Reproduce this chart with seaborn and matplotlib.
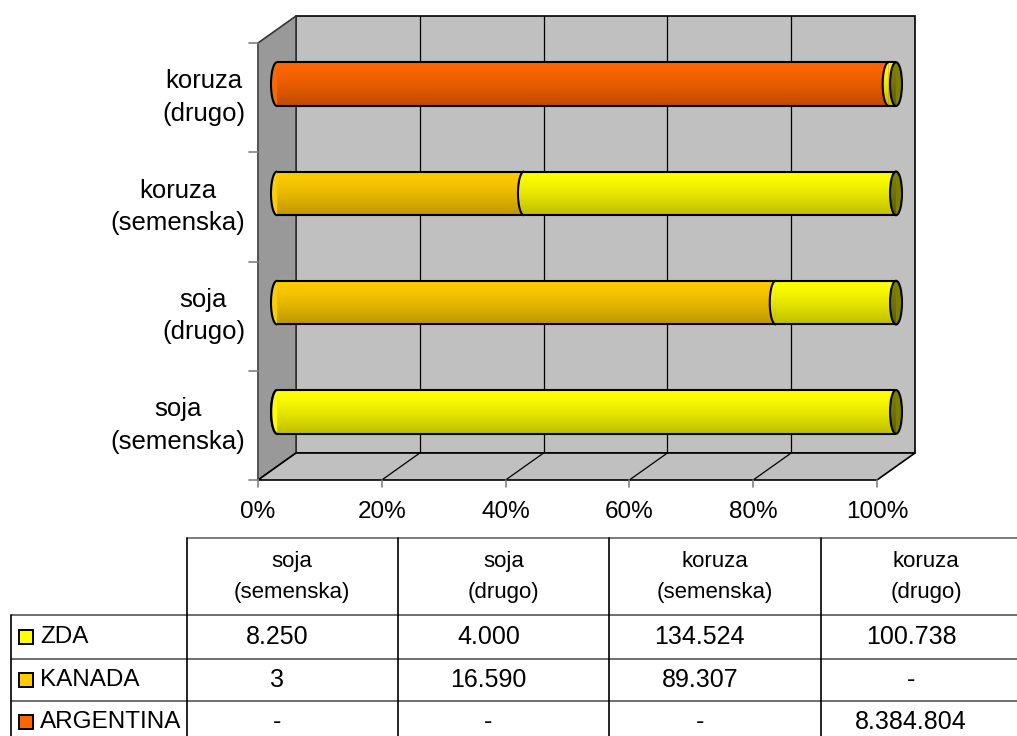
import numpy as np
import pandas as pd
import matplotlib.pyplot as plt
import seaborn as sns
from matplotlib.patches import Polygon, Ellipse, Rectangle

categories = ['soja\n(semenska)', 'soja\n(drugo)', 'koruza\n(semenska)', 'koruza\n(drugo)']
countries = ['ZDA', 'KANADA', 'ARGENTINA']
zda = [8250, 4000, 134524, 100738]
kanada = [3, 16590, 89307, 0]
argentina = [0, 0, 0, 8384804]
xticks = [0, 0.2, 0.4, 0.6, 0.8, 1.0]
xtick_labels = ['0%', '20%', '40%', '60%', '80%', '100%']

colors = {'ZDA': '#FFFF00', 'KANADA': '#FFCC00', 'ARGENTINA': '#FF6600'}
cap_color = '#808000'

df = pd.DataFrame({'kategorija': categories, 'ZDA': zda,
                   'KANADA': kanada, 'ARGENTINA': argentina})
tot = df[countries].sum(axis=1)
df['s_arg'] = df['ARGENTINA'] / tot
df['s_kan'] = df['s_arg'] + df['KANADA'] / tot
df['s_zda'] = df['s_kan'] + df['ZDA'] / tot
order = categories[::-1]

sns.set_style('white')
plt.rcParams['font.family'] = ['Liberation Sans', 'DejaVu Sans']
plt.rcParams['text.color'] = 'black'

W, H = 1017, 736
fig = plt.figure(figsize=(W / 100, H / 100), dpi=100)

# axes = middle depth plane of the 3D box
L, R, T, B = 277, 896, 29.5, 466.5
ax = fig.add_axes([L / W, 1 - B / H, (R - L) / W, (B - T) / H])
PX = 1 / (R - L)
PY = 4 / (B - T)
DX, DY = 19 * PX, 13.5 * PY
y0, y1 = -0.5, 3.5

# walls
ax.add_patch(Rectangle((DX, y0 - DY), 1, 4, fc='#C0C0C0', ec='black', lw=1.2,
                       zorder=0.5, clip_on=False))
for x in xticks[1:-1]:
    ax.plot([x + DX, x + DX], [y0 - DY, y1 - DY], color='black', lw=0.9,
            zorder=0.6, clip_on=False)
ax.add_patch(Polygon([(-DX, y0 + DY), (DX, y0 - DY), (DX, y1 - DY), (-DX, y1 + DY)],
                     fc='#999999', ec='#333333', lw=1.2, zorder=0.7, clip_on=False))
ax.add_patch(Polygon([(-DX, y1 + DY), (1 - DX, y1 + DY), (1 + DX, y1 - DY), (DX, y1 - DY)],
                     fc='#C0C0C0', ec='black', lw=1.2, zorder=0.7, clip_on=False))
for x in xticks[1:-1]:
    ax.plot([x - DX, x + DX], [y1 + DY, y1 - DY], color='black', lw=0.9,
            zorder=0.8, clip_on=False)

# axis lines and ticks
ax.plot([-DX, -DX], [y0 + DY, y1 + DY], color='#555555', lw=1.3, zorder=0.9, clip_on=False)
for k in range(5):
    ax.plot([-DX - 9 * PX, -DX], [y0 + k + DY] * 2, color='#808080', lw=1.2, clip_on=False)
for x, lab in zip(xticks, xtick_labels):
    ax.plot([x - DX, x - DX], [y1 + DY, y1 + DY + 7 * PY], color='#808080', lw=1.2, clip_on=False)
    ax.annotate(lab, xy=(x - DX, y1 + DY), xytext=(0, -32), textcoords='offset pixels',
                ha='center', va='center', fontsize=17.5, annotation_clip=False)
for i, cat in enumerate(order):
    ax.annotate(cat, xy=(-DX, i + DY), xytext=(-13, 0), textcoords='offset pixels',
                ha='right', va='center', multialignment='center', fontsize=18.5,
                linespacing=1.45, annotation_clip=False)

# shading for the cylinders
t = np.linspace(0, 1, 100)
grad = np.zeros((100, 1, 4))
grad[:, 0, 3] = 0.26 * t ** 1.4


def shade(artist, xa, xb, ya, yb, z):
    im = ax.imshow(grad, extent=(xa, xb, yb, ya), origin='upper', aspect='auto',
                   interpolation='bilinear', zorder=z)
    im.set_clip_path(artist)
    im.set_clip_box(None)


# stacked bars (cumulative, drawn widest first)
bar_w = 0.4
layers = [('s_zda', 's_kan', 'ZDA'), ('s_kan', 's_arg', 'KANADA'), ('s_arg', None, 'ARGENTINA')]
full = None
for col, start, name in layers:
    n0 = len(ax.patches)
    sns.barplot(data=df, x=col, y='kategorija', order=order, orient='h',
                color=colors[name], saturation=1, width=bar_w, linewidth=0,
                edgecolor='none', ax=ax, zorder=3)
    if full is None:
        full = ax.patches[n0:]

rx = 6 * PX
for i, p in enumerate(full):
    row = df.set_index('kategorija').loc[order[i]]
    yc = p.get_y() + p.get_height() / 2
    ya, yb = p.get_y(), p.get_y() + p.get_height()
    shade(p, 0, 1, ya, yb, 3.5)
    ax.hlines([ya, yb], p.get_x(), p.get_x() + p.get_width(), color='black', lw=1.5, zorder=4.8)
    # segment starts: left half ellipses
    z = 4.0
    for col, start, name in reversed(layers):
        s = 0 if start is None else row[start]
        e = row[col]
        if e - s <= 0:
            continue
        th = np.linspace(np.pi / 2, 3 * np.pi / 2, 60)
        pts = np.column_stack([s + rx * np.cos(th), yc - bar_w / 2 * np.sin(th)])
        hp = Polygon(pts, closed=False, fc=colors[name], ec='black', lw=1.5,
                     zorder=z, clip_on=False)
        ax.add_patch(hp)
        shade(hp, s - rx, s, ya, yb, z + 0.05)
        z += 0.2
    # end cap
    cap = Ellipse((row['s_zda'], yc), 2 * rx, bar_w, fc=cap_color, ec='black',
                  lw=1.5, zorder=5, clip_on=False)
    ax.add_patch(cap)
    shade(cap, 1 - rx, 1 + rx, ya, yb, 5.05)

ax.set_xlim(0, 1)
ax.set_ylim(y1, y0)
ax.set_axis_off()

# data table
tab = fig.add_axes([0, 0, 1, 1], zorder=-1)
tab.set_xlim(0, W)
tab.set_ylim(H, 0)
tab.set_axis_off()
col_x = [186.5, 398, 609, 820.5, 1032]
row_y = [615, 659, 701, 743]
tab.plot([col_x[0], W], [538, 538], color='#666666', lw=1.2)
for yy in row_y[:-1]:
    tab.plot([11, W], [yy, yy], color='#555555', lw=1.2)
tab.plot([11, 11], [row_y[0], H], color='black', lw=1.2)
for xx in col_x[:-1]:
    tab.plot([xx, xx], [538, H], color='black', lw=1.2)

for j, cat in enumerate(categories):
    cx = (col_x[j] + col_x[j + 1]) / 2
    tab.text(cx, 577, cat, ha='center', va='center', multialignment='center',
             fontsize=16, linespacing=1.6)

series = {'ZDA': zda, 'KANADA': kanada, 'ARGENTINA': argentina}
for r, name in enumerate(countries):
    cy = (row_y[r] + row_y[r + 1]) / 2
    tab.add_patch(Rectangle((18.5, cy - 7), 14, 14, fc=colors[name], ec='black', lw=1.4))
    tab.text(40, cy, name, ha='left', va='center', fontsize=17.5)
    for j, v in enumerate(series[name]):
        cx = (col_x[j] + col_x[j + 1]) / 2 - 15
        txt = '{:,}'.format(v).replace(',', '.') if v else '-'
        tab.text(cx, cy, txt, ha='center', va='center', fontsize=18)

fig.savefig('out.png', dpi=100)
